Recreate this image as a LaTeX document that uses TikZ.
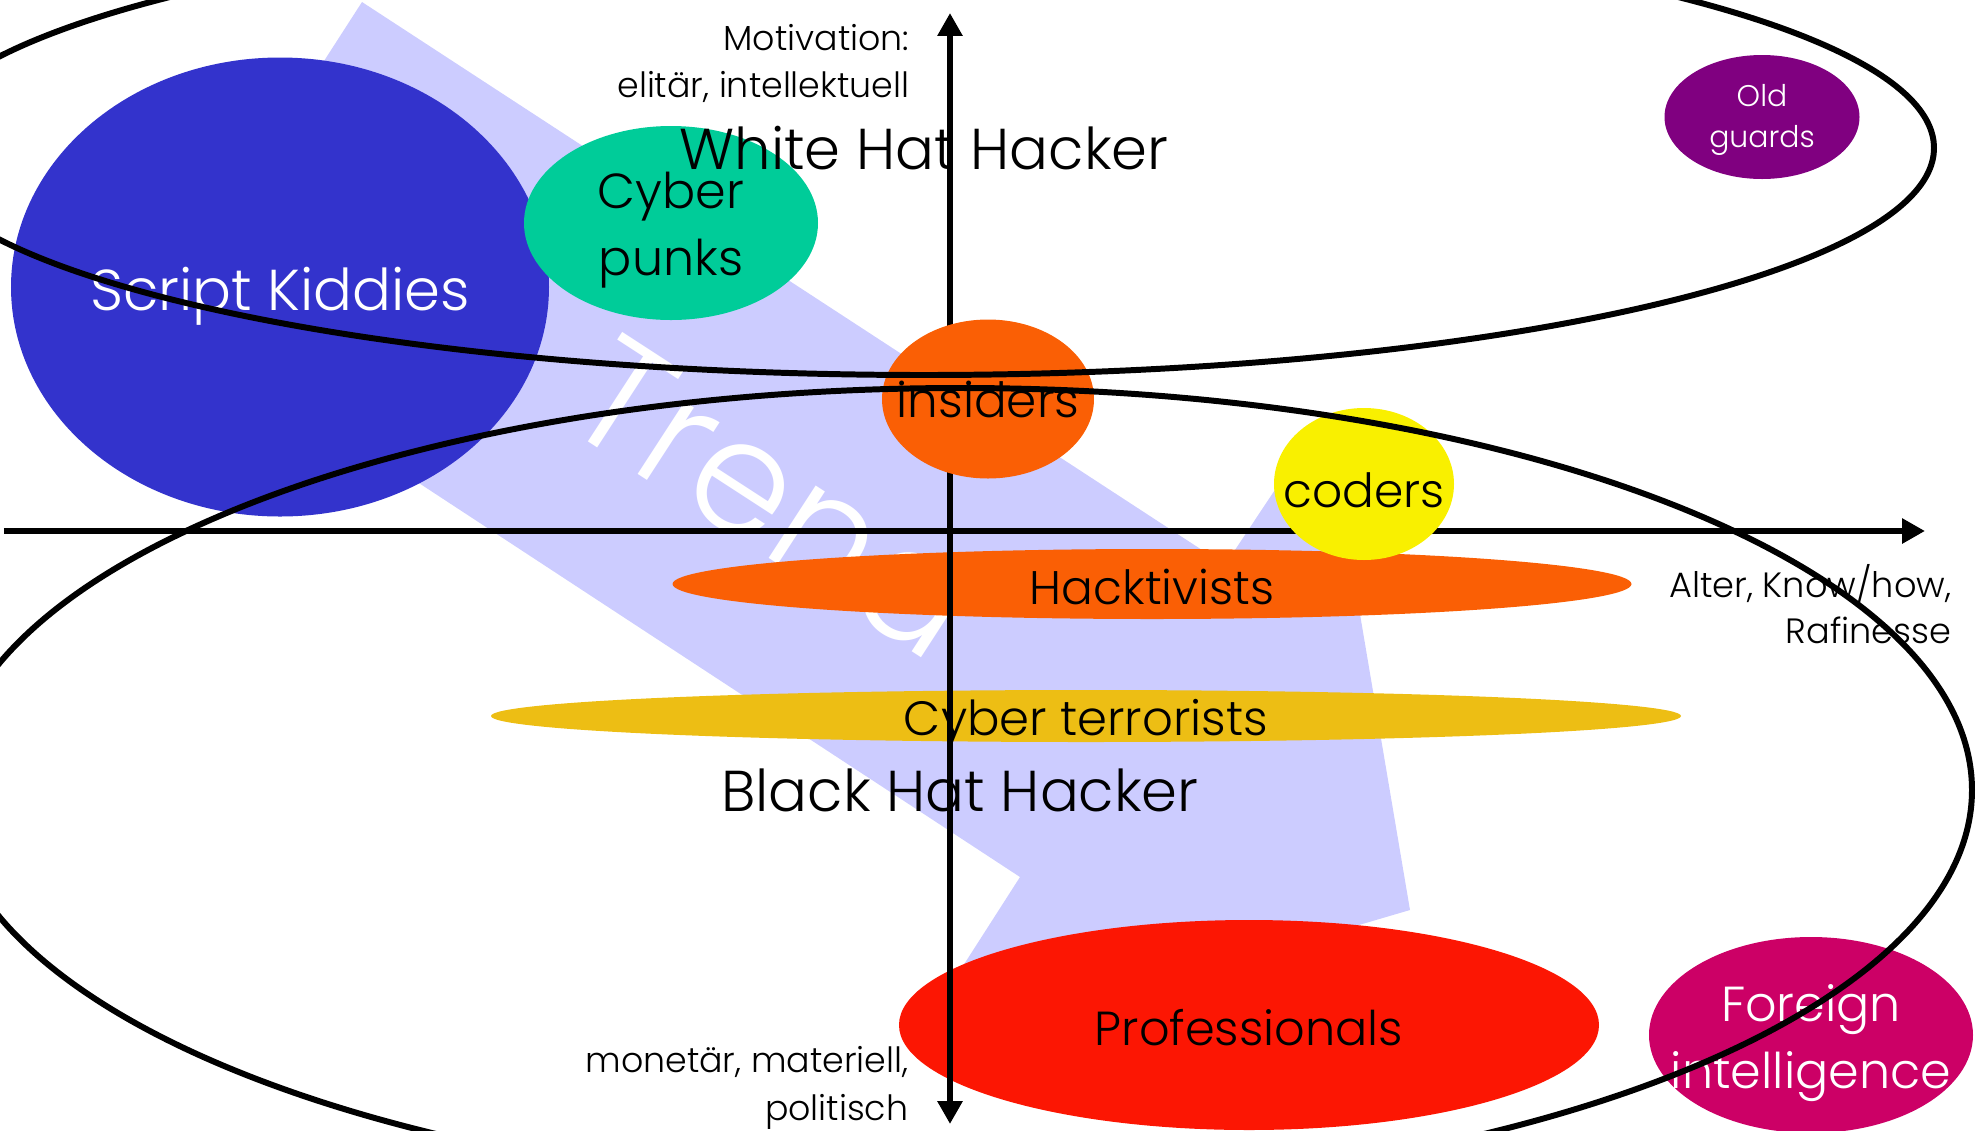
\documentclass[tikz,border=0pt]{standalone}
\usepackage{fontspec}
\setmainfont{Poppins}[UprightFont=* Light]
\usetikzlibrary{arrows.meta,shapes.geometric}

\definecolor{trendblue}{HTML}{CCCCFF}
\definecolor{kiddiesblue}{HTML}{3333CC}
\definecolor{punksgreen}{HTML}{00CC99}
\definecolor{hotorange}{HTML}{FA5F05}
\definecolor{codersyellow}{HTML}{F9F000}
\definecolor{terrorgold}{HTML}{EDBE14}
\definecolor{prored}{HTML}{FC1603}
\definecolor{spymagenta}{HTML}{CC0066}
\definecolor{oldpurple}{HTML}{800080}

\newcommand{\lbl}[1]{\fontsize{#1}{#1}\selectfont}

\begin{document}
\begin{tikzpicture}
\tikzstyle{every node}+=[inner sep=0pt]
\tikzstyle{blob}=[ellipse]
\tikzstyle{hat}=[ellipse, draw=black, line width=1.7pt, font=\lbl{16.4}]
\tikzstyle{axis}=[black, line width=1.7pt]

\useasboundingbox (0,0) rectangle (19.79,-11.31);
\clip (0,0) rectangle (19.79,-11.31);

% big trend arrow behind everything
\fill [trendblue] (3.62,-0.02) -- (1.61,-3.14) -- (10.20,-8.77) -- (9.45,-9.94)
  -- (12.50,-9.57) -- (14.10,-9.10) -- (13.26,-4.13) -- (12.25,-5.65) -- cycle;
\node [rotate=-33, text=white, font=\lbl{45}] (trend) at (7.77,-4.95) {Trend};

% groups
\node [blob, fill=hotorange, minimum width=9.59cm, minimum height=0.70cm,
  label={[font=\lbl{13.4}, yshift=-0.025cm]center:Hacktivists}] (hacktivists) at (11.52,-5.84) {};
\node [blob, fill=terrorgold, minimum width=11.90cm, minimum height=0.52cm,
  label={[font=\lbl{13.7}, yshift=-0.075cm]center:Cyber terrorists}] (terrorists) at (10.86,-7.16) {};
\node [blob, fill=prored, minimum width=7.00cm, minimum height=2.10cm,
  label={[font=\lbl{13.6}, yshift=-0.025cm]center:Professionals}] (pros) at (12.49,-10.25) {};
\node [blob, fill=kiddiesblue, minimum width=5.38cm, minimum height=4.59cm,
  label={[font=\lbl{16.4}, text=white, yshift=-0.09cm]center:Script Kiddies}] (kiddies) at (2.80,-2.87) {};
\node [blob, fill=punksgreen, minimum width=2.94cm, minimum height=1.94cm,
  label={[font=\lbl{14}, align=center, yshift=-0.07cm]center:{Cyber\\[5pt]punks}}] (punks) at (6.71,-2.23) {};
\node [blob, fill=spymagenta, minimum width=3.24cm, minimum height=1.96cm,
  label={[font=\lbl{14}, align=center, text=white, yshift=-0.08cm]center:{Foreign\\[4pt]intelligence}}] (foreign) at (18.11,-10.35) {};
\node [blob, fill=oldpurple, minimum width=1.95cm, minimum height=1.24cm,
  label={[font=\lbl{8.5}, align=center, text=white, yshift=-0.03cm]center:{Old\\[3pt]guards}}] (oldguards) at (17.62,-1.17) {};

% axes
\coordinate (xfrom) at (0.04,-5.31);
\coordinate (xto) at (19.25,-5.31);
\coordinate (ytop) at (9.50,-0.13);
\coordinate (ybot) at (9.50,-11.24);
\draw [axis, -{Triangle[length=6.5pt,width=6.8pt]}] (xfrom) -- (xto);
\draw [axis, {Triangle[length=6.5pt,width=6.8pt]}-{Triangle[length=6.5pt,width=6.8pt]}] (ybot) -- (ytop);

\node [blob, fill=hotorange, minimum width=2.12cm, minimum height=1.59cm,
  label={[font=\lbl{13.8}]center:insiders}] (insiders) at (9.88,-3.99) {};
\node [blob, fill=codersyellow, minimum width=1.80cm, minimum height=1.52cm,
  label={[font=\lbl{13.4}, yshift=-0.06cm]center:coders}] (coders) at (13.64,-4.84) {};

% white hats above, black hats below
\node [hat, minimum width=20.20cm, minimum height=4.54cm] (whitehat) at (9.24,-1.48) {White Hat Hacker};
\node [hat, minimum width=20.24cm, minimum height=8.04cm] (blackhat) at (9.60,-7.90) {Black Hat Hacker};

% axis labels
\node [anchor=east, align=right, font=\lbl{9.9}] (motivation) at (9.10,-0.635) {Motivation:\\[3.4pt]elitär, intellektuell};
\node [anchor=east, align=right, font=\lbl{10}] (skill) at (19.52,-6.04) {Alter, Know/how,\\[2.9pt]Rafinesse};
\node [anchor=east, align=right, font=\lbl{9.9}] (money) at (9.09,-10.88) {monetär, materiell,\\[3.8pt]politisch};
\end{tikzpicture}
\end{document}
